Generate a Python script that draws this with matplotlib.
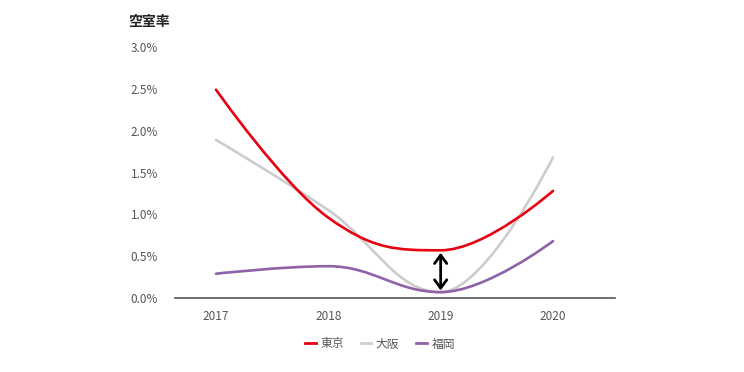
import numpy as np
import matplotlib.pyplot as plt
from matplotlib.path import Path
from matplotlib.patches import PathPatch
from matplotlib.lines import Line2D

plt.rcParams['font.family'] = ['Noto Sans CJK JP', 'DejaVu Sans']

years = [2017, 2018, 2019, 2020]
tokyo = [2.49, 0.96, 0.57, 1.28]
osaka = [1.89, 1.05, 0.07, 1.68]
fukuoka = [0.29, 0.38, 0.07, 0.68]
names = ['東京', '大阪', '福岡']
colors = ['#e60012', '#cccccc', '#8e62a8']
yticks = [0, 0.5, 1.0, 1.5, 2.0, 2.5, 3.0]


def spline_path(ax, xs, ys):
    # highcharts-like spline, control points computed in display space
    pts = ax.transData.transform(np.column_stack([xs, ys]))
    n = len(pts)
    sm = 1.5
    den = sm + 1
    verts = [tuple(pts[0])]
    codes = [Path.MOVETO]
    ctrl = []
    for i in range(n):
        x, y = pts[i]
        if 0 < i < n - 1:
            lx, ly = pts[i - 1]
            nx, ny = pts[i + 1]
            lcx = (sm * x + lx) / den
            lcy = (sm * y + ly) / den
            rcx = (sm * x + nx) / den
            rcy = (sm * y + ny) / den
            if rcx != lcx:
                corr = (rcy - lcy) * (rcx - x) / (rcx - lcx) + y - rcy
                lcy += corr
                rcy += corr
            if lcy > ly and lcy > y:
                lcy = max(ly, y)
                rcy = 2 * y - lcy
            elif lcy < ly and lcy < y:
                lcy = min(ly, y)
                rcy = 2 * y - lcy
            if rcy > ny and rcy > y:
                rcy = max(ny, y)
                lcy = 2 * y - rcy
            elif rcy < ny and rcy < y:
                rcy = min(ny, y)
                lcy = 2 * y - rcy
            ctrl.append(((lcx, lcy), (rcx, rcy)))
        else:
            ctrl.append(((x, y), (x, y)))
    for i in range(1, n):
        verts += [ctrl[i - 1][1], ctrl[i][0], tuple(pts[i])]
        codes += [Path.CURVE4] * 3
    return Path(verts, codes)


fig = plt.figure(figsize=(7.44, 3.72), dpi=100)
ax = fig.add_axes([175 / 744, 1 - 298 / 372, 440 / 744, 251 / 372])
ax.set_xlim(2016.635, 2020.552)
ax.set_ylim(0, 3.0)

for s in ['top', 'right', 'left']:
    ax.spines[s].set_visible(False)
ax.spines['bottom'].set_color('#555555')
ax.spines['bottom'].set_linewidth(1.2)
ax.spines['bottom'].set_zorder(1)

ax.set_xticks(years)
ax.set_xticklabels([str(y) for y in years])
ax.set_yticks(yticks)
ax.set_yticklabels(['%.1f%%' % v for v in yticks], ha='left')
ax.tick_params(axis='both', length=0, labelsize=8.5, labelcolor='#555555')
ax.tick_params(axis='y', pad=32)
ax.tick_params(axis='x', pad=9)

for vals, c in zip([osaka, fukuoka, tokyo], [colors[1], colors[2], colors[0]]):
    p = spline_path(ax, years, vals)
    ax.add_patch(PathPatch(p, transform=None, fill=False, edgecolor=c,
                           lw=1.9, capstyle='round', joinstyle='round',
                           zorder=3 if c == colors[0] else 2))

ax.annotate('', xy=(years[2], fukuoka[2] + 0.02), xytext=(years[2], tokyo[2] - 0.03),
            arrowprops=dict(arrowstyle='<->,head_length=0.3,head_width=0.22',
                            color='black', lw=2,
                            mutation_scale=20, shrinkA=0, shrinkB=0), zorder=5)

fig.text(128 / 744, 1 - 22 / 372, '空室率', fontsize=10, fontweight='bold',
         color='#222222', va='center', ha='left')

handles = [Line2D([0], [0], color=c, lw=2) for c in colors]
fig.legend(handles, names, loc='center', bbox_to_anchor=(380 / 744, 1 - 344 / 372),
           ncol=3, frameon=False, fontsize=8.5, handlelength=0.9, handletextpad=0.4,
           columnspacing=1.4, labelcolor='#555555')

fig.savefig('out.png', dpi=100)
